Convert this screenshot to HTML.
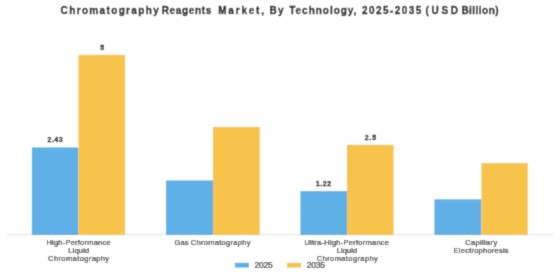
<!DOCTYPE html>
<html><head><meta charset="utf-8">
<style>
html,body{margin:0;padding:0;background:#fff;width:560px;height:280px;overflow:hidden}
svg{display:block}
text{font-family:"Liberation Sans",sans-serif}
</style></head>
<body>
<svg width="560" height="280" viewBox="0 0 560 280">
<defs><filter id="b" x="0" y="0" width="560" height="280" filterUnits="userSpaceOnUse"><feConvolveMatrix order="3" kernelMatrix="0.0225 0.1050 0.0225 0.1050 0.4900 0.1050 0.0225 0.1050 0.0225" edgeMode="duplicate" preserveAlpha="false"/></filter></defs>
<g filter="url(#b)">
<rect x="0" y="0" width="560" height="280" fill="#fff"/>
<g font-size="10.0" font-weight="bold" fill="#1a1a1a" stroke="#1a1a1a" stroke-width="0.3" lengthAdjust="spacingAndGlyphs">
<text x="60.6" y="13.7" textLength="98.1">Chromatography</text>
<text x="161.7" y="13.7" textLength="49.7">Reagents</text>
<text x="218.2" y="13.7" textLength="45.8">Market,</text>
<text x="269.6" y="13.7" textLength="14.0">By</text>
<text x="289.2" y="13.7" textLength="67.2">Technology,</text>
<text x="362.1" y="13.7" textLength="59.3">2025-2035</text>
<text x="425.6" y="13.7" textLength="32.3">(USD</text>
<text x="461.4" y="13.7" textLength="37.2">Billion)</text>
</g>
<line x1="6.7" y1="234.6" x2="553.7" y2="234.6" stroke="#e9e9e9" stroke-width="1.2"/>
<g fill="#5FB0E6">
<rect x="31.85" y="147.4" width="46.65" height="87.6"/>
<rect x="166.0" y="180.4" width="47.0" height="54.6"/>
<rect x="300.4" y="191.1" width="46.6" height="43.9"/>
<rect x="434.4" y="199.3" width="47.0" height="35.7"/>
</g>
<g fill="#F8C34B">
<rect x="78.5" y="54.9" width="46.6" height="180.1"/>
<rect x="213.0" y="127.0" width="46.8" height="108"/>
<rect x="347.0" y="144.9" width="46.6" height="90.1"/>
<rect x="481.4" y="163.1" width="46.3" height="71.9"/>
</g>
<g font-size="7" font-weight="bold" fill="#1a1a1a" stroke="#1a1a1a" stroke-width="0.3" lengthAdjust="spacingAndGlyphs">
<text x="47.5" y="142.3" textLength="15.1">2.43</text>
<text x="100.3" y="49.6" textLength="4.4">5</text>
<text x="315.8" y="186.1" textLength="15.4">1.22</text>
<text x="364.8" y="140.1" textLength="11.4">2.5</text>
</g>
<g font-size="7.5" fill="#333" stroke="#333" stroke-width="0.24" lengthAdjust="spacingAndGlyphs">
<text x="46.4" y="245.3" textLength="64.2">High-Performance</text>
<text x="68.2" y="253.1" textLength="21">Liquid</text>
<text x="48.1" y="260.9" textLength="61">Chromatography</text>
<text x="174.6" y="245.3" textLength="13.8">Gas</text>
<text x="190.7" y="245.3" textLength="59.8">Chromatography</text>
<text x="304.4" y="245.3" textLength="84.6">Ultra-High-Performance</text>
<text x="336.8" y="253.1" textLength="20.4">Liquid</text>
<text x="316.8" y="260.9" textLength="61">Chromatography</text>
<text x="465.2" y="245.3" textLength="32">Capillary</text>
<text x="453.6" y="253.1" textLength="55">Electrophoresis</text>
</g>
<rect x="234.8" y="262.8" width="14.0" height="4.8" fill="#5FB0E6"/>
<rect x="286.9" y="262.8" width="14.2" height="4.8" fill="#F8C34B"/>
<g font-size="8.5" fill="#333" stroke="#333" stroke-width="0.24" lengthAdjust="spacingAndGlyphs">
<text x="254.6" y="267.9" textLength="18.2">2025</text>
<text x="306.8" y="267.9" textLength="18.2">2035</text>
</g>
</g>
</svg>
</body></html>
